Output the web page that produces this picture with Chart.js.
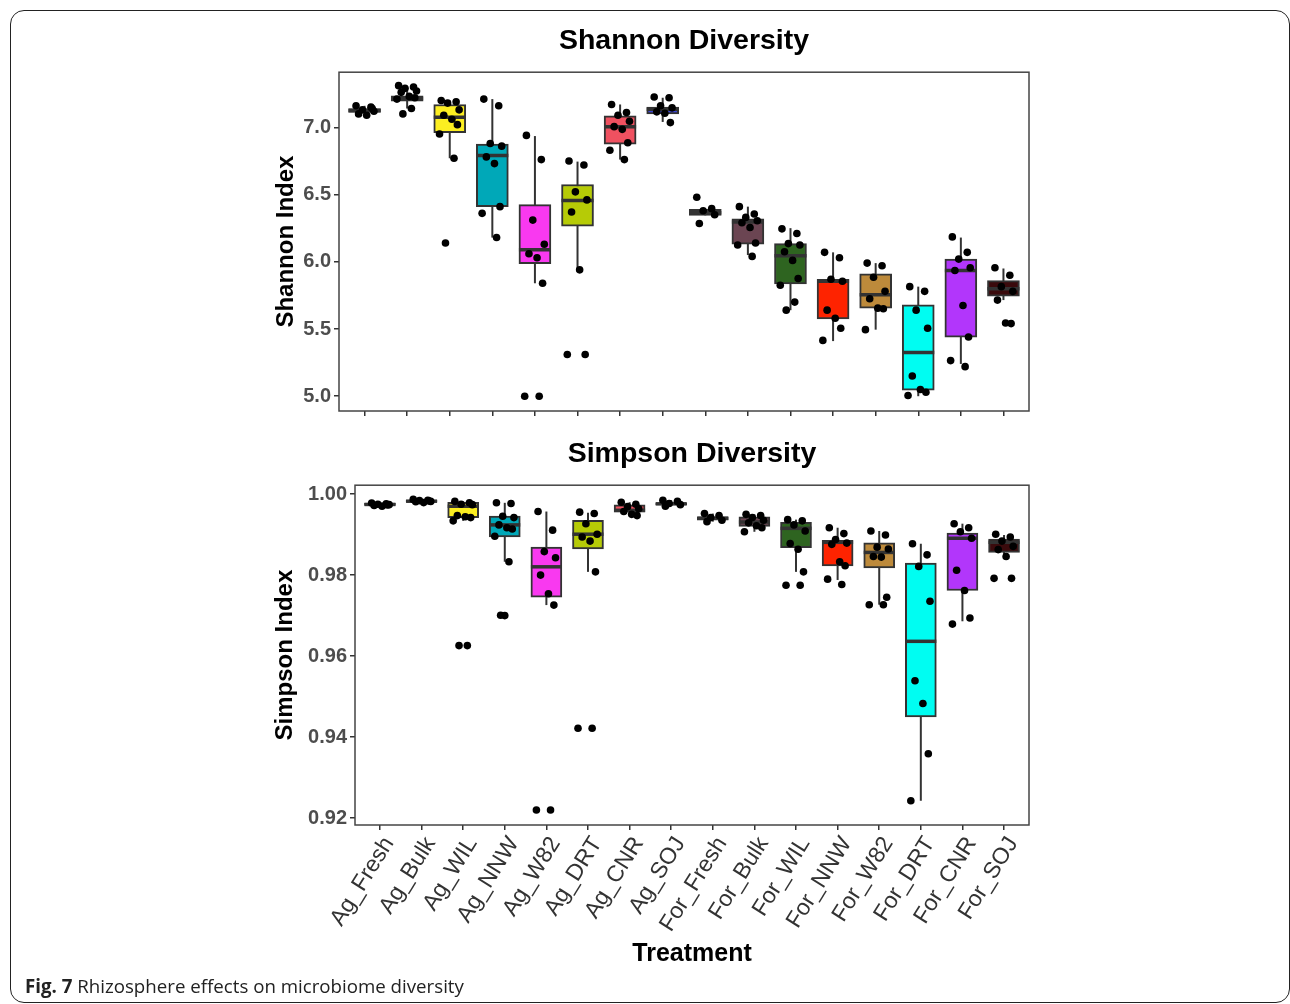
<!DOCTYPE html>
<html>
<head>
<meta charset="utf-8">
<script src="https://cdn.jsdelivr.net/npm/chart.js@4.4.1/dist/chart.umd.min.js"></script>
<style>
  body { margin: 0; background: #fff; width: 1290px; height: 1004px; overflow: hidden; position: relative; }
  #frame { position: absolute; left: 10px; top: 10px; width: 1280px; height: 993px; border: 1.5px solid #222; border-radius: 14px; box-sizing: border-box; }
  #shannon { position: absolute; left: 0; top: 0; }
  #simpson { position: absolute; left: 0; top: 420px; }
  #caption { position: absolute; left: 25px; top: 977px; font-family: "Open Sans"; font-size: 18.7px; line-height: 18px; color: #222; white-space: nowrap; }
</style>
</head>
<body>
<div id="frame"></div>
<canvas id="shannon" width="1290" height="426"></canvas>
<canvas id="simpson" width="1290" height="584"></canvas>
<div id="caption"><b>Fig. 7</b> Rhizosphere effects on microbiome diversity</div>
<script>
const treatments = ["Ag_Fresh", "Ag_Bulk", "Ag_WIL", "Ag_NNW", "Ag_W82", "Ag_DRT", "Ag_CNR", "Ag_SOJ",
                    "For_Fresh", "For_Bulk", "For_WIL", "For_NNW", "For_W82", "For_DRT", "For_CNR", "For_SOJ"];

// Shannon box stats (whisker low, q1, median, q3, whisker high)
const shannonLow = [7.09, 7.14, 6.77, 6.18, 5.84, 5.94, 6.76, 7.04, 6.345, 6.05, 5.64, 5.41, 5.495, 5.00, 5.24, 5.715];
const shannonQ1  = [7.11, 7.195, 6.96, 6.41, 5.985, 6.265, 6.875, 7.10, 6.345, 6.13, 5.835, 5.575, 5.655, 5.045, 5.44, 5.745];
const shannonMed = [7.125, 7.215, 7.075, 6.79, 6.09, 6.455, 7.005, 7.135, 6.365, 6.295, 6.045, 5.855, 5.755, 5.325, 5.935, 5.80];
const shannonQ3  = [7.14, 7.235, 7.17, 6.875, 6.425, 6.575, 7.085, 7.15, 6.39, 6.32, 6.135, 5.87, 5.91, 5.68, 6.02, 5.86];
const shannonHigh = [7.16, 7.30, 7.20, 7.21, 6.935, 6.745, 7.17, 7.22, 6.39, 6.41, 6.25, 6.07, 5.99, 5.815, 6.18, 5.95];
const shannonPoints = [
  [7.16, 7.15, 7.13, 7.12, 7.10, 7.09, 7.14],
  [7.31, 7.30, 7.29, 7.27, 7.26, 7.23, 7.22, 7.21, 7.14, 7.10],
  [7.20, 7.19, 7.18, 7.13, 7.09, 7.06, 7.02, 6.95, 6.77, 6.14],
  [7.21, 7.16, 6.88, 6.86, 6.78, 6.73, 6.41, 6.36, 6.18],
  [6.94, 6.76, 6.31, 6.13, 6.06, 6.03, 5.84, 5.00, 5.00],
  [6.75, 6.72, 6.52, 6.46, 6.37, 5.94, 5.31, 5.31],
  [7.17, 7.11, 7.09, 7.045, 7.005, 6.985, 6.885, 6.83, 6.76],
  [7.225, 7.22, 7.16, 7.145, 7.115, 7.105, 7.035],
  [6.48, 6.395, 6.38, 6.35, 6.285],
  [6.41, 6.355, 6.33, 6.305, 6.29, 6.255, 6.14, 6.125, 6.04],
  [6.245, 6.21, 6.135, 6.125, 6.075, 6.01, 5.875, 5.825, 5.70, 5.64],
  [6.07, 6.03, 5.87, 5.855, 5.64, 5.58, 5.505, 5.415],
  [5.99, 5.97, 5.885, 5.78, 5.725, 5.655, 5.65, 5.495],
  [5.815, 5.78, 5.64, 5.505, 5.15, 5.05, 5.03, 5.005],
  [6.185, 6.07, 6.02, 5.955, 5.935, 5.675, 5.44, 5.265, 5.22],
  [5.955, 5.90, 5.815, 5.78, 5.715, 5.545, 5.54]
];
const shannonTicks = [5.0, 5.5, 6.0, 6.5, 7.0];

// Simpson box stats
const simpsonLow = [0.9970, 0.9979, 0.9934, 0.9833, 0.9726, 0.9808, 0.9947, 0.9970, 0.9932, 0.9907, 0.9808, 0.9788, 0.9727, 0.9243, 0.9686, 0.9846];
const simpsonQ1  = [0.9972, 0.9980, 0.9942, 0.9894, 0.97455, 0.98645, 0.99555, 0.99735, 0.99355, 0.99205, 0.98675, 0.9823, 0.9818, 0.9450, 0.9762, 0.9856];
const simpsonMed = [0.99745, 0.99825, 0.9970, 0.9924, 0.98205, 0.9901, 0.9960, 0.9976, 0.99405, 0.9931, 0.99155, 0.9881, 0.9856, 0.96365, 0.9891, 0.9881];
const simpsonQ3  = [0.9977, 0.9985, 0.9980, 0.99455, 0.98695, 0.99355, 0.99735, 0.99785, 0.9944, 0.9944, 0.99305, 0.9886, 0.98795, 0.9830, 0.9904, 0.9889];
const simpsonHigh = [0.9979, 0.9987, 0.9982, 0.99785, 0.9957, 0.9954, 0.9980, 0.9985, 0.9952, 0.9950, 0.9937, 0.9917, 0.9909, 0.98775, 0.9927, 0.9899];
const simpsonPoints = [
  [0.9978, 0.9976, 0.9975, 0.9974, 0.9972, 0.9970, 0.9973],
  [0.9987, 0.9985, 0.9984, 0.9982, 0.9981, 0.9979, 0.9983],
  [0.9982, 0.99785, 0.9975, 0.9974, 0.9947, 0.9944, 0.9942, 0.9934, 0.9626, 0.9626],
  [0.99785, 0.9977, 0.99455, 0.9942, 0.9924, 0.9917, 0.9914, 0.9896, 0.9833, 0.9701, 0.9700],
  [0.9957, 0.9911, 0.9858, 0.9843, 0.9800, 0.9754, 0.9726, 0.9220, 0.9220],
  [0.99555, 0.9952, 0.9927, 0.9901, 0.9894, 0.9884, 0.9808, 0.9422, 0.9422],
  [0.9980, 0.9975, 0.9969, 0.9964, 0.9957, 0.9950, 0.9947],
  [0.9985, 0.9982, 0.9977, 0.9974, 0.9970],
  [0.9952, 0.9947, 0.9942, 0.99355, 0.9932],
  [0.9950, 0.9947, 0.9942, 0.99355, 0.9929, 0.9922, 0.9917, 0.9907],
  [0.9937, 0.9934, 0.9924, 0.9909, 0.9878, 0.9864, 0.9808, 0.9775, 0.9775],
  [0.9917, 0.99025, 0.9888, 0.9879, 0.9876, 0.9833, 0.9823, 0.9790, 0.9777],
  [0.9909, 0.9899, 0.9869, 0.98645, 0.9846, 0.98445, 0.97455, 0.9727, 0.9727],
  [0.98775, 0.9850, 0.98215, 0.97355, 0.9539, 0.9483, 0.9359, 0.9243],
  [0.9927, 0.9917, 0.9907, 0.9891, 0.9812, 0.9762, 0.9694, 0.9679],
  [0.9901, 0.9894, 0.9884, 0.9871, 0.9863, 0.9846, 0.9792, 0.9792]
];
const simpsonTicks = [0.92, 0.94, 0.96, 0.98, 1.00];

const boxColors = ["#4a4a4a", "#2e2e2e", "#fcee21", "#00a8b8", "#f939f0", "#b6cb06", "#ef5160", "#3d46d6",
                   "#333333", "#6b4552", "#2e6420", "#fe2300", "#bd8a3b", "#00fdf2", "#b236fb", "#3a0a0c"];
// horizontal jitter of the dots, in category units
const jitter = [-0.2, 0.15, -0.05, 0.22, -0.14, 0.05, 0.18, -0.24, 0.1, -0.1, 0.0];

const FONT = "'Liberation Sans', Arial, sans-serif";

const boxPlugin = {
  id: "boxParts",
  beforeDatasetsDraw(chart) {
    const s = chart.$box;
    const ctx = chart.ctx;
    const x = chart.scales.x, y = chart.scales.y;
    ctx.save();
    ctx.strokeStyle = "#333";
    ctx.lineWidth = 2;
    for (let i = 0; i < treatments.length; i++) {
      const px = x.getPixelForValue(i);
      ctx.beginPath();
      ctx.moveTo(px, y.getPixelForValue(s.low[i]));
      ctx.lineTo(px, y.getPixelForValue(s.high[i]));
      ctx.stroke();
    }
    ctx.restore();
  },
  afterDatasetDraw(chart, args) {
    if (args.index !== 0) return;
    const s = chart.$box;
    const ctx = chart.ctx;
    const y = chart.scales.y;
    const bars = chart.getDatasetMeta(0).data;
    ctx.save();
    ctx.strokeStyle = "#333";
    ctx.lineWidth = 3.5;
    bars.forEach((b, i) => {
      const py = y.getPixelForValue(s.med[i]);
      ctx.beginPath();
      ctx.moveTo(b.x - b.width / 2, py);
      ctx.lineTo(b.x + b.width / 2, py);
      ctx.stroke();
    });
    ctx.restore();
  },
  afterDraw(chart) {
    const a = chart.chartArea;
    const ctx = chart.ctx;
    ctx.save();
    ctx.strokeStyle = "#444";
    ctx.lineWidth = 1.5;
    ctx.strokeRect(a.left, a.top, a.right - a.left, a.bottom - a.top);
    ctx.restore();
  }
};

function makeChart(id, stats, cfg) {
  const boxData = treatments.map((t, i) => ({ x: i, y: [cfg.q1[i], cfg.q3[i]] }));
  const dots = [];
  cfg.points.forEach((arr, i) => {
    arr.forEach((v, k) => dots.push({ x: i + jitter[k % jitter.length], y: v }));
  });

  const chart = new Chart(document.getElementById(id), {
    type: "bar",
    data: {
      datasets: [
        {
          data: boxData,
          backgroundColor: boxColors,
          borderColor: "#333",
          borderWidth: 2,
          borderSkipped: false,
          barThickness: cfg.boxWidth,
          order: 1
        },
        {
          type: "scatter",
          data: dots,
          pointRadius: 3.8,
          pointBackgroundColor: "#000",
          pointBorderWidth: 0,
          order: 0
        }
      ]
    },
    options: {
      responsive: false,
      animation: false,
      layout: { autoPadding: false, padding: { left: cfg.padLeft, right: 261, top: 0, bottom: cfg.padBottom } },
      plugins: {
        legend: { display: false },
        tooltip: { enabled: false },
        title: {
          display: true,
          text: cfg.title,
          fullSize: false,
          color: "#000",
          font: { family: FONT, size: 28.5, weight: "bold" },
          padding: { top: cfg.titleTop, bottom: cfg.titleBottom }
        }
      },
      scales: {
        x: {
          type: "linear",
          min: -0.6,
          max: 15.6,
          offset: false,
          afterBuildTicks: (s) => { s.ticks = treatments.map((t, i) => ({ value: i })); },
          afterFit: (s) => { s.height = cfg.xHeight; },
          grid: { offset: false, drawOnChartArea: false, drawTicks: true, tickLength: 5, color: "#333", lineWidth: 1.5 },
          border: { display: false },
          ticks: {
            display: cfg.showLabels,
            autoSkip: false,
            minRotation: 58,
            maxRotation: 58,
            padding: 2,
            labelOffset: 9,
            color: "#333",
            font: { family: FONT, size: 23 },
            callback: (v) => treatments[v]
          },
          title: {
            display: cfg.showLabels,
            text: "Treatment",
            color: "#000",
            font: { family: FONT, size: 25, weight: "bold" }
          }
        },
        y: {
          min: cfg.min,
          max: cfg.max,
          afterBuildTicks: (s) => { s.ticks = cfg.ticks.map((v) => ({ value: v })); },
          afterFit: (s) => { s.width = cfg.yWidth; },
          grid: { drawOnChartArea: false, drawTicks: true, tickLength: 5, color: "#333", lineWidth: 1.5 },
          border: { display: false },
          ticks: {
            padding: 3,
            color: "#4d4d4d",
            font: { family: FONT, size: 20, weight: "bold" },
            callback: (v) => v.toFixed(cfg.digits)
          },
          title: {
            display: true,
            text: cfg.yTitle,
            color: "#000",
            font: { family: FONT, size: 24, weight: "bold" }
          }
        }
      }
    },
    plugins: [boxPlugin, { id: "stats", beforeInit(c) { c.$box = stats; } }]
  });
  return chart;
}

makeChart("shannon", { low: shannonLow, med: shannonMed, high: shannonHigh }, {
  title: "Shannon Diversity", titleTop: 24, titleBottom: 14,
  q1: shannonQ1, q3: shannonQ3, points: shannonPoints,
  min: 4.89, max: 7.41, ticks: shannonTicks, digits: 1, yTitle: "Shannon Index",
  showLabels: false, xHeight: 9, padBottom: 0, padLeft: 268, yWidth: 71, boxWidth: 32
});

makeChart("simpson", { low: simpsonLow, med: simpsonMed, high: simpsonHigh }, {
  title: "Simpson Diversity", titleTop: 17, titleBottom: 14,
  q1: simpsonQ1, q3: simpsonQ3, points: simpsonPoints,
  min: 0.9183, max: 1.0022, ticks: simpsonTicks, digits: 2, yTitle: "Simpson Index",
  showLabels: true, xHeight: 148, padBottom: 31, padLeft: 267, yWidth: 88, boxWidth: 31
});
</script>
</body>
</html>
